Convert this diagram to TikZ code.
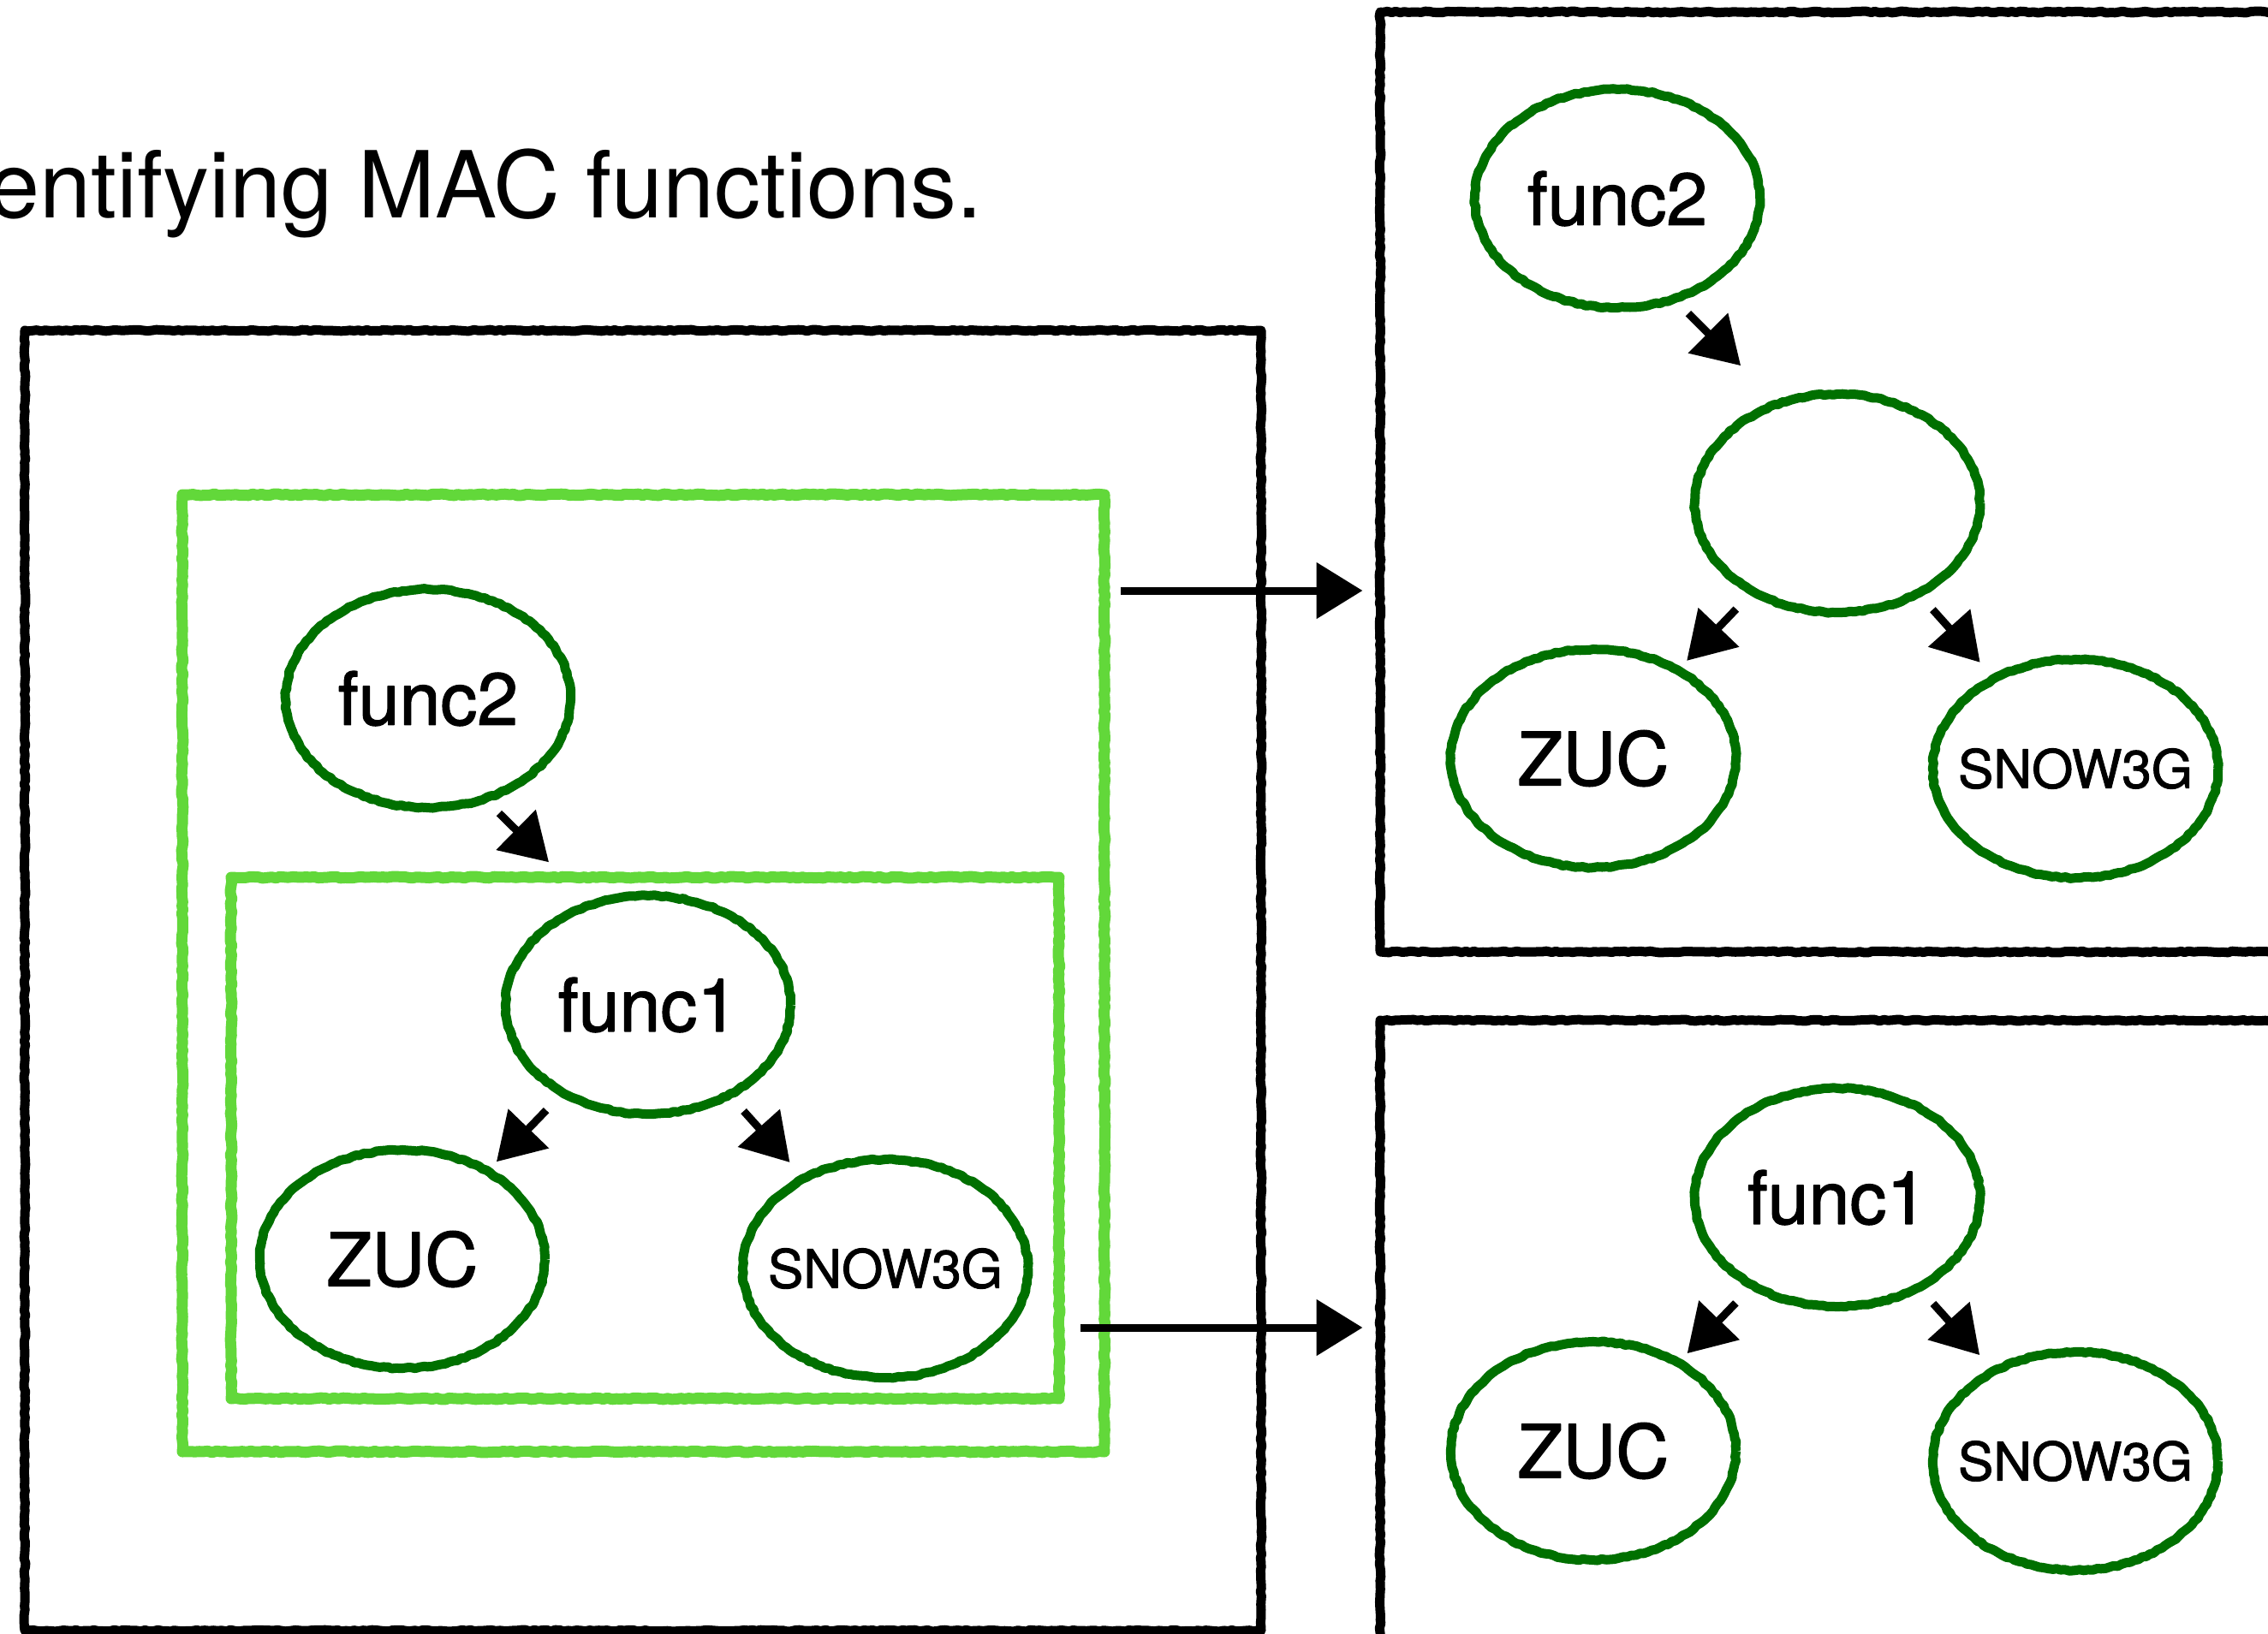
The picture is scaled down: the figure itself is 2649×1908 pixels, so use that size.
\documentclass[tikz,border=0pt]{standalone}
\usepackage{fontspec}
\setmainfont{TeX Gyre Heros}
\newfontfamily\heavyfont[FakeBold=1.5]{TeX Gyre Heros}
\usepackage{mathtools}
\usepackage{tikz}
\usetikzlibrary{decorations.pathmorphing,shapes.geometric,arrows.meta}
\definecolor{darkgreen}{RGB}{0,112,0}
\definecolor{lightgreen}{RGB}{98,216,58}
\tikzstyle{rough} = [decorate, decoration={random steps, segment length=2.5pt, amplitude=0.45pt}, line join=round]
\tikzstyle{funcnode} = [rough, draw=darkgreen, line width=5.5pt, ellipse, inner sep=0pt,
    minimum width=166.5pt, minimum height=127.5pt, font=\heavyfont\fontsize{43pt}{50pt}\selectfont]
\tikzstyle{smalltext} = [font=\heavyfont\fontsize{31pt}{36pt}\selectfont]
\tikzstyle{blackbox} = [rough, draw=black, line width=5.5pt, rectangle, inner sep=0pt]
\tikzstyle{greenbox} = [rough, draw=lightgreen, line width=6.5pt, rectangle, inner sep=0pt]
\tikzstyle{arrowline} = [draw=black, line width=4.5pt, -{Triangle[length=27pt,width=32pt]}]
\tikzstyle{fancytitle} = [inner sep=0pt, anchor=base west, font=\fontsize{54pt}{60pt}\selectfont]

\begin{document}
\begin{tikzpicture}[x=0.5pt, y=-0.5pt]
    \pgfmathsetseed{3}
    \useasboundingbox (0,0) rectangle (2649,1908);
    \node[fancytitle] (title) at (-14,254) {entifying MAC functions.};
    % left panel
    \node[blackbox, minimum width=722pt, minimum height=759.5pt] (leftbox) at (751,1145.5) {};
    \node[greenbox, minimum width=538.5pt, minimum height=559pt] (outer) at (751.5,1137) {};
    \node[greenbox, minimum width=483.5pt, minimum height=304.5pt] (inner) at (753.5,1329.5) {};
    \node[funcnode] (lf2) at (500,816) {func2};
    \node[funcnode] (lf1) at (757,1174) {func1};
    \node[funcnode] (lzuc) at (470,1471) {ZUC};
    \node[funcnode, smalltext] (lsnow) at (1034,1482) {\clap{SNOW3G}};
    % right panels
    \node[blackbox, minimum width=554pt, minimum height=549pt] (rtop) at (2166,563) {};
    \node[blackbox, minimum width=554pt, minimum height=369pt] (rbot) at (2166,1561) {};
    \node[funcnode] (rf2) at (1889,232) {func2};
    \node[funcnode] (hub) at (2146,588) {};
    \node[funcnode] (rzuca) at (1861,886) {ZUC};
    \node[funcnode, smalltext] (rsnowa) at (2424,898) {\clap{SNOW3G}};
    \node[funcnode] (rf1) at (2146,1399) {func1};
    \node[funcnode] (rzucb) at (1861,1695) {ZUC};
    \node[funcnode, smalltext] (rsnowb) at (2424,1707) {\clap{SNOW3G}};
    % arrows
    \draw[arrowline, shorten <=9pt, shorten >=8pt] (lf2.-60) -- (inner.108);
    \draw[arrowline, shorten <=9pt, shorten >=28.5pt] (rf2.-60) -- (hub.121);
    \foreach \p/\c in {lf1/lzuc, hub/rzuca, rf1/rzucb}
        \draw[arrowline, shorten <=11.5pt, shorten >=5pt] (\p) -- (\c);
    \foreach \p/\c in {lf1/lsnow, hub/rsnowa, rf1/rsnowb}
        \draw[arrowline, shorten <=10pt, shorten >=10pt] (\p) -- (\c);
    \coordinate (row1) at (0,690);
    \coordinate (row2) at (0,1551);
    \draw[arrowline, shorten <=6pt, shorten >=7.5pt] (outer.east |- row1) -- (rtop.west |- row1);
    \draw[arrowline, shorten <=9pt, shorten >=7.5pt] (inner.east |- row2) -- (rbot.west |- row2);
\end{tikzpicture}
\end{document}
